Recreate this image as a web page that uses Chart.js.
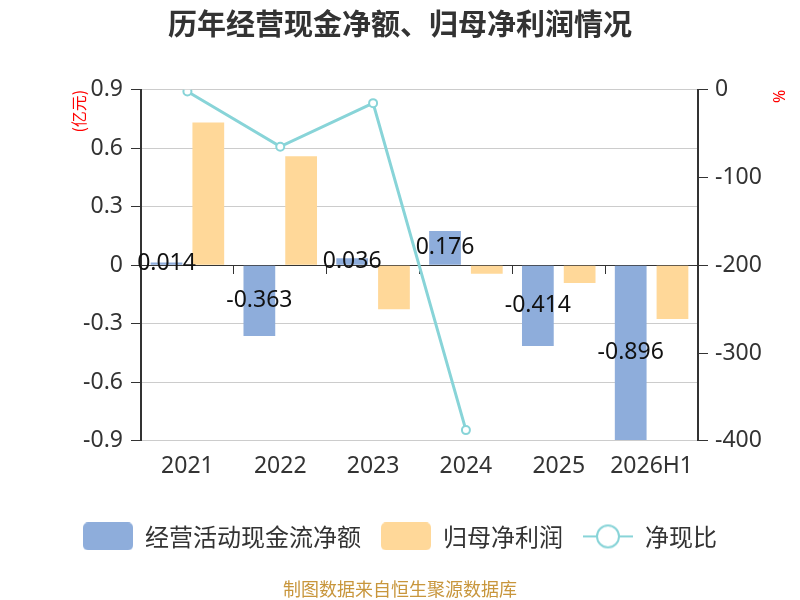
<!DOCTYPE html>
<html>
<head>
<meta charset="utf-8">
<script src="https://cdn.jsdelivr.net/npm/chart.js@4"></script>
<style>
  html, body { margin: 0; padding: 0; background: #fff; }
  #wrap { width: 800px; height: 600px; }
</style>
</head>
<body>
<div id="wrap"><canvas id="cashChart"></canvas></div>
<script>
const years = ['2021', '2022', '2023', '2024', '2025', '2026H1'];
const cashFlow = [0.014, -0.363, 0.036, 0.176, -0.414, -0.896];
const netProfit = [0.732, 0.559, -0.225, -0.043, -0.091, -0.276];
const cashRatio = [-1.9, -64.8, -15.2, -387.8, null, null];
const leftTicks = [-0.9, -0.6, -0.3, 0, 0.3, 0.6, 0.9];
const rightTicks = [-400, -300, -200, -100, 0];

const BLUE = '#8eaddb';
const ORANGE = '#ffd899';
const TEAL = '#88d4d8';
const FONT = "'Noto Sans', 'Noto Sans CJK SC', sans-serif";
const CJK = "'Noto Sans CJK SC', sans-serif";

function boxImg(color) {
  const c = document.createElement('canvas');
  c.width = 50; c.height = 28;
  const g = c.getContext('2d');
  const r = 5, w = 50, h = 28;
  g.fillStyle = color;
  g.beginPath();
  g.moveTo(r, 0);
  g.arcTo(w, 0, w, h, r);
  g.arcTo(w, h, 0, h, r);
  g.arcTo(0, h, 0, 0, r);
  g.arcTo(0, 0, w, 0, r);
  g.closePath();
  g.fill();
  return c;
}

function lineImg(color) {
  const c = document.createElement('canvas');
  c.width = 50; c.height = 26;
  const g = c.getContext('2d');
  g.strokeStyle = color;
  g.lineWidth = 2;
  g.beginPath(); g.moveTo(0, 13); g.lineTo(50, 13); g.stroke();
  g.fillStyle = '#fff';
  g.beginPath(); g.arc(25, 13, 11, 0, Math.PI * 2); g.fill(); g.stroke();
  return c;
}

const legendImgs = [boxImg(BLUE), boxImg(ORANGE), lineImg(TEAL)];

// value labels in the middle of the cash flow bars
const barLabels = {
  id: 'barLabels',
  afterDatasetsDraw(chart) {
    const meta = chart.getDatasetMeta(0);
    const ctx = chart.ctx;
    ctx.save();
    ctx.font = '23px ' + FONT;
    ctx.fillStyle = '#111';
    ctx.textAlign = 'center';
    ctx.textBaseline = 'middle';
    meta.data.forEach((bar, i) => {
      ctx.fillText(cashFlow[i].toFixed(3), bar.x, (bar.y + bar.base) / 2);
    });
    ctx.restore();
  }
};

Chart.defaults.font.family = FONT;
Chart.defaults.color = '#333';

new Chart(document.getElementById('cashChart'), {
  type: 'bar',
  data: {
    labels: years,
    datasets: [
      {
        label: '经营活动现金流净额',
        data: cashFlow,
        backgroundColor: BLUE,
        xAxisID: 'x', yAxisID: 'y',
        barPercentage: 0.76, categoryPercentage: 0.9,
        order: 2
      },
      {
        label: '归母净利润',
        data: netProfit,
        backgroundColor: ORANGE,
        xAxisID: 'x', yAxisID: 'y',
        barPercentage: 0.76, categoryPercentage: 0.9,
        order: 3
      },
      {
        type: 'line',
        label: '净现比',
        data: cashRatio,
        borderColor: TEAL,
        borderWidth: 3,
        pointRadius: 4,
        pointBorderWidth: 2,
        pointBackgroundColor: '#fff',
        pointBorderColor: TEAL,
        tension: 0,
        xAxisID: 'x', yAxisID: 'y1',
        order: 1
      }
    ]
  },
  options: {
    responsive: true,
    maintainAspectRatio: false,
    animation: false,
    layout: { padding: { left: 14, right: 14, top: 0, bottom: 0 } },
    plugins: {
      title: {
        display: true,
        text: '历年经营现金净额、归母净利润情况',
        color: '#333',
        font: { size: 29, weight: 'bold', family: CJK },
        padding: { top: 7, bottom: 48 }
      },
      subtitle: {
        display: true,
        position: 'bottom',
        text: '制图数据来自恒生聚源数据库',
        color: '#c8963c',
        font: { size: 18, family: CJK },
        padding: { top: 20, bottom: 0 }
      },
      legend: {
        position: 'bottom',
        labels: {
          usePointStyle: true,
          pointStyleWidth: 50,
          padding: 20,
          color: '#333',
          font: { size: 24, family: CJK },
          sort: (a, b) => a.datasetIndex - b.datasetIndex,
          generateLabels: chart => {
            const items = Chart.defaults.plugins.legend.labels.generateLabels(chart);
            items.forEach(it => { it.pointStyle = legendImgs[it.datasetIndex]; });
            return items;
          }
        }
      },
      tooltip: { enabled: false }
    },
    scales: {
      x: {
        type: 'category',
        position: { y: 0 },
        offset: true,
        grid: { offset: true, drawOnChartArea: false, drawTicks: true, tickLength: 8, tickColor: '#333' },
        border: { color: '#333', width: 1 },
        ticks: { display: false }
      },
      x2: {
        type: 'category',
        position: 'bottom',
        offset: true,
        grid: { display: false, drawTicks: false },
        border: { display: false },
        ticks: { padding: 12, color: '#333', font: { size: 23 } },
        title: { display: true, text: ' ', padding: 0, font: { size: 10 } }
      },
      y: {
        position: 'left',
        min: -0.9, max: 0.9,
        afterBuildTicks: s => { s.ticks = leftTicks.map(v => ({ value: v })); },
        afterFit: s => { s.width = 127; },
        ticks: { padding: 8, color: '#333', font: { size: 23 }, callback: v => String(v) },
        grid: { color: '#ccc', tickColor: '#333', tickLength: 10 },
        border: { color: '#333', width: 2 },
        title: {
          display: true, text: '(亿元)', align: 'end', color: '#ff0000',
          padding: { top: 57, bottom: 0 },
          font: { size: 16, lineHeight: 1, family: CJK }
        }
      },
      y1: {
        position: 'right',
        min: -400, max: 0,
        afterBuildTicks: s => { s.ticks = rightTicks.map(v => ({ value: v })); },
        afterFit: s => { s.width = 88; },
        ticks: { padding: 7, color: '#333', font: { size: 23 }, callback: v => String(v) },
        grid: { drawOnChartArea: false, tickColor: '#333', tickLength: 10 },
        border: { color: '#333', width: 2 },
        title: {
          display: true, text: '%', align: 'end', color: '#ff0000',
          padding: 0,
          font: { size: 16, lineHeight: 1 }
        }
      }
    }
  },
  plugins: [barLabels]
});
</script>
</body>
</html>
